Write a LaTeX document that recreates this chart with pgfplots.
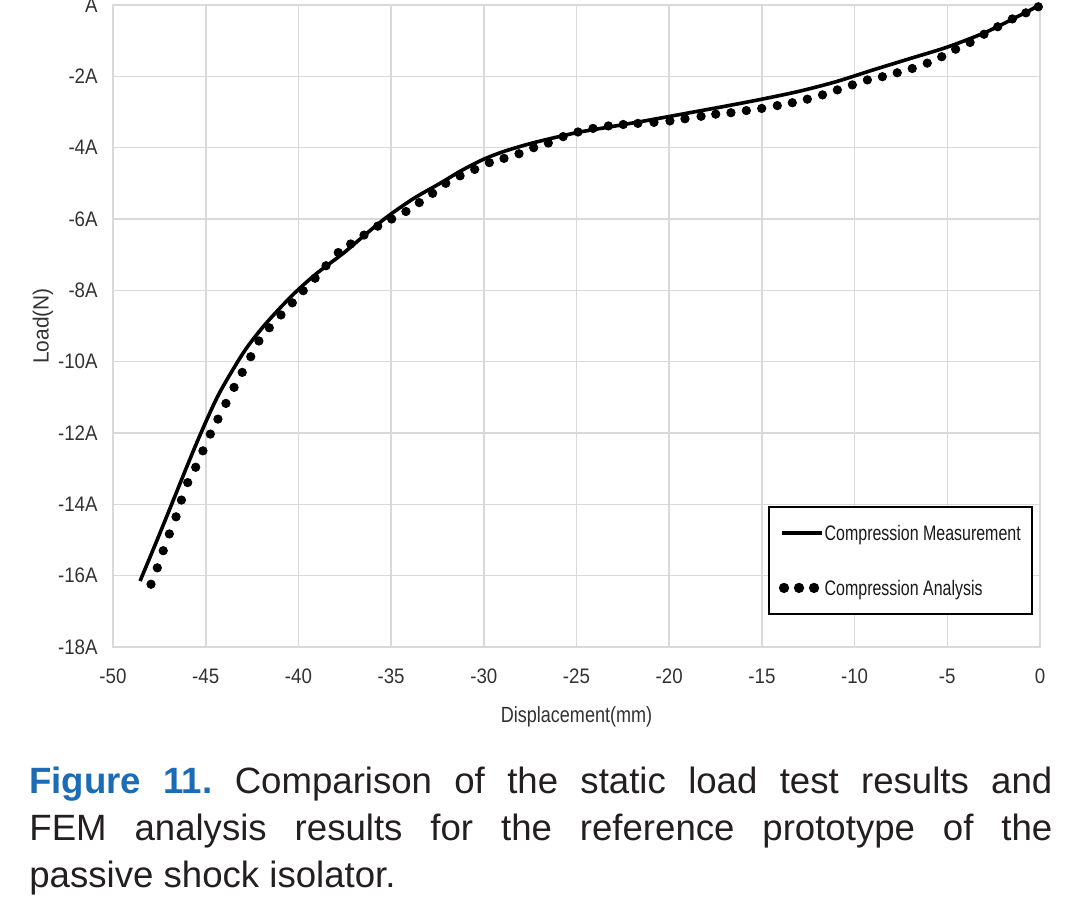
\documentclass[border=0pt]{standalone}
\usepackage{fontspec}
\setmainfont{Liberation Sans}
\newfontfamily\condfont[FakeStretch=0.89]{Liberation Sans}
\newfontfamily\legfont[FakeStretch=0.76]{Liberation Sans}
\newfontfamily\xlabfont[FakeStretch=0.82]{Liberation Sans}
\newfontfamily\ylabfont[FakeStretch=0.95]{Liberation Sans}
\usepackage{pgfplots}
\pgfplotsset{compat=1.18}
\definecolor{figblue}{RGB}{28,107,181}
\definecolor{captxt}{RGB}{35,31,32}
\definecolor{lblgray}{RGB}{50,50,50}
\definecolor{gridgray}{RGB}{217,217,217}

\pgfplotstableread{
x y
-48.54 -16.15
-47.70 -15.10
-46.90 -14.08
-46.10 -13.05
-45.30 -12.05
-44.40 -11.02
-43.60 -10.28
-42.80 -9.62
-41.90 -9.02
-41.00 -8.50
-40.09 -8.02
-39.00 -7.52
-37.58 -6.96
-36.40 -6.44
-35.24 -5.95
-33.80 -5.43
-32.36 -5.00
-31.20 -4.64
-30.03 -4.33
-29.00 -4.12
-28.00 -3.96
-27.00 -3.82
-25.00 -3.58
-23.00 -3.40
-21.00 -3.22
-19.00 -3.03
-17.00 -2.84
-15.00 -2.64
-13.00 -2.42
-11.00 -2.15
-9.00 -1.82
-7.00 -1.50
-5.00 -1.18
-3.00 -0.78
-1.50 -0.40
0 0
}\measured

\pgfplotstableread{
x y
-47.95 -16.24
-47.61 -15.78
-47.29 -15.30
-46.96 -14.83
-46.60 -14.35
-46.31 -13.88
-45.97 -13.39
-45.54 -12.96
-45.15 -12.50
-44.75 -12.03
-44.34 -11.61
-43.91 -11.17
-43.47 -10.72
-43.03 -10.30
-42.57 -9.86
-42.13 -9.42
-41.57 -9.05
-40.94 -8.69
-40.33 -8.35
-39.74 -8.01
-39.10 -7.66
-38.51 -7.31
-37.85 -6.94
-37.18 -6.70
-36.46 -6.45
-35.72 -6.20
-34.97 -6.00
-34.20 -5.79
-33.48 -5.54
-32.76 -5.28
-32.05 -5.00
-31.28 -4.79
-30.49 -4.61
-29.70 -4.42
-28.91 -4.30
-28.10 -4.17
-27.31 -4.00
-26.52 -3.87
-25.72 -3.69
-24.92 -3.56
-24.11 -3.46
-23.28 -3.39
-22.48 -3.35
-21.69 -3.32
-20.82 -3.29
-19.96 -3.25
-19.15 -3.19
-18.28 -3.12
-17.49 -3.06
-16.67 -3.02
-15.84 -2.96
-15.01 -2.90
-14.17 -2.82
-13.36 -2.74
-12.55 -2.64
-11.73 -2.52
-10.93 -2.38
-10.12 -2.24
-9.31 -2.10
-8.50 -2.01
-7.70 -1.90
-6.89 -1.78
-6.08 -1.63
-5.30 -1.45
-4.55 -1.24
-3.77 -1.05
-3.02 -0.82
-2.28 -0.61
-1.49 -0.39
-0.76 -0.22
-0.09 -0.05
}\analysis

\begin{document}
\begin{tikzpicture}
\useasboundingbox (0,0) rectangle (540pt,-452.5pt);
\begin{axis}[
  at={(56.5pt,-323.5pt)}, anchor=south west,
  scale only axis, width=463.5pt, height=321pt,
  xmin=-50, xmax=0, ymin=-18, ymax=0,
  xtick={-50,-45,...,0},
  xticklabels={-50,-45,-40,-35,-30,-25,-20,-15,-10,-5,0},
  ytick={-18,-16,...,0},
  yticklabels={-18A,-16A,-14A,-12A,-10A,-8A,-6A,-4A,-2A,A},
  major tick length=0pt,
  grid=major,
  grid style={gridgray, line width=0.8pt},
  axis line style={gridgray, line width=0.8pt},
  ticklabel style={font=\condfont\fontsize{10.5pt}{12pt}\selectfont, text=lblgray, inner sep=0pt},
  xticklabel style={anchor=center, yshift=-14.5pt},
  yticklabel style={anchor=east, xshift=-7.5pt},
  xlabel={Displacement(mm)},
  ylabel={Load(N)},
  xlabel style={font=\xlabfont\fontsize{11pt}{12pt}\selectfont, text=lblgray, inner sep=0pt,
    at={(axis description cs:0.5,-0.109)}, anchor=center},
  ylabel style={font=\ylabfont\fontsize{11pt}{12pt}\selectfont, text=lblgray, inner sep=0pt,
    at={(axis description cs:-0.0755,0.5)}, anchor=center},
  legend cell align=left,
  legend style={at={(0.7066,0.2196)}, anchor=north west,
    draw=black, line width=0.9pt, fill=white,
    inner xsep=5pt, inner ysep=8.75pt,
    row sep=19pt, column sep=0pt,
    nodes={font=\legfont\fontsize{10.5pt}{12pt}\selectfont, text=black!90,
      inner xsep=0.5pt, inner ysep=0pt, text height=8pt, text depth=0.5pt},
  },
]
\addplot[black, line width=1.8pt, smooth, tension=0.5,
  legend image code/.code={\draw[black, line width=1.7pt] (0pt,0pt) -- (20pt,0pt);}]
  table[x=x,y=y] {\measured};
\addlegendentry{Compression Measurement}
\addplot[only marks, mark=*, mark size=2.1pt, black,
  legend image code/.code={\fill[black] (1pt,0pt) circle (2.1pt) (8.5pt,0pt) circle (2.1pt) (16pt,0pt) circle (2.1pt);}]
  table[x=x,y=y] {\analysis};
\addlegendentry{Compression Analysis}
\end{axis}
\node[anchor=base west, inner sep=0pt, text width=511.5pt, align=justify,
  font=\fontsize{18.3pt}{23.7pt}\selectfont\frenchspacing, text=captxt] at (14.5pt,-396.5pt)
  {\textbf{\textcolor{figblue}{Figure 11.}} Comparison of the static load test results and\linebreak FEM analysis results for the reference prototype of the\linebreak passive shock isolator.};
\end{tikzpicture}
\end{document}
